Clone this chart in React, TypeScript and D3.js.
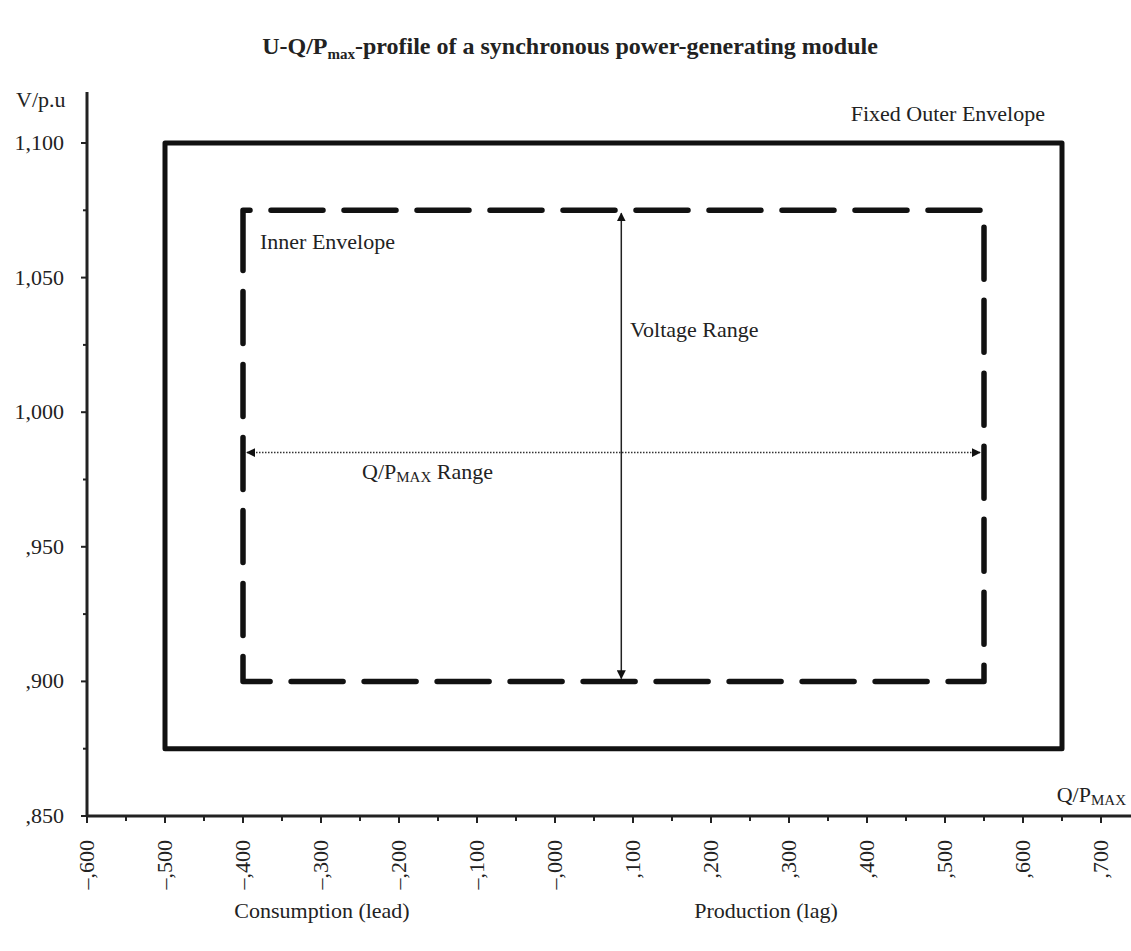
import React from "react";
import * as d3 from "d3";

const xTicks = [-0.6, -0.5, -0.4, -0.3, -0.2, -0.1, 0.0, 0.1, 0.2, 0.3, 0.4, 0.5, 0.6, 0.7];
const xTickLabels = ["–,600", "–,500", "–,400", "–,300", "–,200", "–,100", "–,000", ",100", ",200", ",300", ",400", ",500", ",600", ",700"];
const yTicks = [1.1, 1.05, 1.0, 0.95, 0.9, 0.85];
const yTickLabels = ["1,100", "1,050", "1,000", ",950", ",900", ",850"];
const outerEnvelope = { qMin: -0.5, qMax: 0.65, vMin: 0.875, vMax: 1.1 };
const innerEnvelope = { qMin: -0.4, qMax: 0.55, vMin: 0.9, vMax: 1.075 };
const voltageArrow = { q: 0.085, v1: 1.075, v2: 0.9 };
const qArrow = { v: 0.985, q1: -0.4, q2: 0.55 };

const W = 1131, H = 951;
const FONT = "'Liberation Serif', 'DejaVu Serif', serif";
const FS = 22;

export default function App() {
  const x = d3.scaleLinear().domain([-0.6, 0.7]).range([87, 1101]);
  const y = d3.scaleLinear().domain([0.85, 1.1]).range([816, 143]);

  const xMinor = d3.range(-0.6, 0.7501, 0.05);
  const yMinor = d3.range(0.85, 1.1201, 0.025);

  const o = outerEnvelope;
  const i = innerEnvelope;
  const innerPath = `M${x(i.qMin)},${y(i.vMax) + 45} L${x(i.qMin)},${y(i.vMax)} L${x(i.qMax)},${y(i.vMax)} L${x(i.qMax)},${y(i.vMin)} L${x(i.qMin)},${y(i.vMin)} Z`;

  return (
    <svg width={W} height={H} style={{ position: "absolute", left: 0, top: 0, background: "#fff" }} fontFamily={FONT}>
      <defs>
        <marker id="ah" viewBox="0 0 10 10" refX="9" refY="5" markerWidth="9" markerHeight="9" markerUnits="userSpaceOnUse" orient="auto-start-reverse">
          <path d="M0,0 L10,5 L0,10 Z" fill="#111" />
        </marker>
      </defs>
      {/* title */}
      <text x={570} y={54} textAnchor="middle" fontSize={24} fontWeight="bold" fill="#222">
        U-Q/P<tspan fontSize={15} dy={5}>max</tspan><tspan dy={-5}>-profile of a synchronous power-generating module</tspan>
      </text>

      {/* axes */}
      <line x1={x(-0.6)} x2={x(-0.6)} y1={92} y2={y(0.85)} stroke="#222" strokeWidth={3} />
      <line x1={x(-0.6)} x2={W} y1={y(0.85)} y2={y(0.85)} stroke="#222" strokeWidth={3} />
      {yMinor.map((v, k) => (
        <line key={"ym" + k} x1={x(-0.6) - (k % 2 === 0 ? 6 : 4)} x2={x(-0.6)} y1={y(v)} y2={y(v)} stroke="#222" strokeWidth={2} />
      ))}
      {xMinor.map((q, k) => (
        <line key={"xm" + k} x1={x(q)} x2={x(q)} y1={y(0.85)} y2={y(0.85) + (k % 2 === 0 ? 7 : 5)} stroke="#222" strokeWidth={2} />
      ))}
      {yTicks.map((v, k) => (
        <text key={"yl" + k} x={64} y={y(v) + 7} textAnchor="end" fontSize={FS} fill="#222">{yTickLabels[k]}</text>
      ))}
      {xTicks.map((q, k) => (
        <text key={"xl" + k} transform={`translate(${x(q) + 7},840) rotate(-90)`} textAnchor="end" fontSize={FS} fill="#222">{xTickLabels[k]}</text>
      ))}
      <text x={16} y={107} fontSize={FS} fill="#222">V/p.u</text>
      <text x={1126} y={802} textAnchor="end" fontSize={FS} fill="#222">Q/P<tspan fontSize={15} dy={3}>MAX</tspan></text>
      <text x={322} y={918} textAnchor="middle" fontSize={FS} fill="#222">Consumption (lead)</text>
      <text x={766} y={918} textAnchor="middle" fontSize={FS} fill="#222">Production (lag)</text>

      {/* outer envelope */}
      <rect x={x(o.qMin)} y={y(o.vMax)} width={x(o.qMax) - x(o.qMin)} height={y(o.vMin) - y(o.vMax)} fill="none" stroke="#111" strokeWidth={5} strokeLinejoin="round" />
      <text x={1045} y={121} textAnchor="end" fontSize={FS} fill="#222">Fixed Outer Envelope</text>

      {/* inner envelope */}
      <path d={innerPath} fill="none" stroke="#111" strokeWidth={5.5} strokeDasharray="52 21" strokeLinecap="round" strokeLinejoin="round" />
      <text x={260} y={249} fontSize={FS} fill="#222">Inner Envelope</text>

      {/* voltage range arrow */}
      <line x1={x(voltageArrow.q)} x2={x(voltageArrow.q)} y1={y(voltageArrow.v1) + 3} y2={y(voltageArrow.v2) - 3} stroke="#222" strokeWidth={1.5} markerStart="url(#ah)" markerEnd="url(#ah)" />
      <text x={630} y={337} fontSize={FS} fill="#222">Voltage Range</text>

      {/* Q/Pmax range arrow */}
      <line x1={x(qArrow.q1) + 4} x2={x(qArrow.q2) - 4} y1={y(qArrow.v)} y2={y(qArrow.v)} stroke="#333" strokeWidth={1.5} strokeDasharray="1.5 1.5" markerStart="url(#ah)" markerEnd="url(#ah)" />
      <text x={362} y={479} fontSize={FS} fill="#222">Q/P<tspan fontSize={15} dy={3}>MAX</tspan><tspan dy={-3}> Range</tspan></text>
    </svg>
  );
}
